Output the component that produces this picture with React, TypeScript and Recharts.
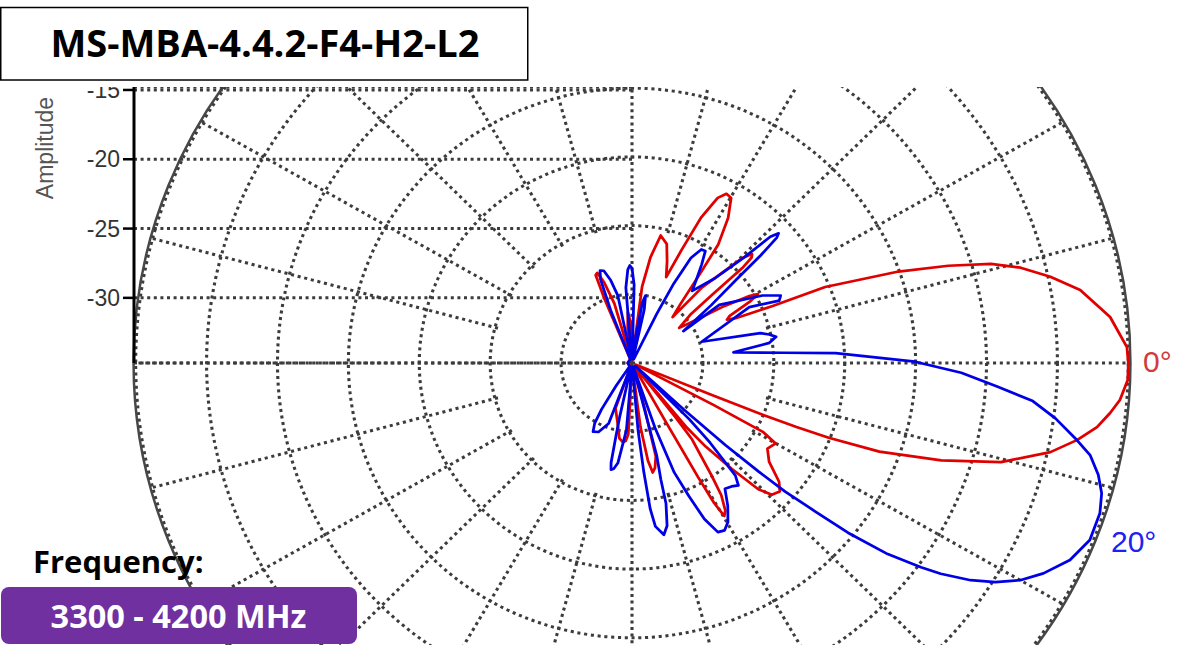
import React from 'react';
import {
  RadarChart,
  Radar,
  PolarGrid,
  PolarAngleAxis,
  PolarRadiusAxis,
  ComposedChart,
  XAxis,
  YAxis,
  CartesianGrid,
} from 'recharts';

// ---------------- data (angle in degrees, positive = below horizon; amplitude in dB) ----------------
const RED_PATH: Array<[number, number]> = [
  [-180, -34.7], [-114, -34.7], [-112.6, -30], [-111.8, -28.1], [-110.5, -28.0], [-108.5, -28.8], [-106, -30.5],
  [-104, -34.7], [-99, -34.7], [-97, -32.5], [-94.5, -31.3], [-92, -32], [-89.5, -34.7], [-84.5, -34.7],
  [-82.7, -29.4], [-80.4, -27.2], [-77.7, -25.5], [-74.2, -26.0], [-71.5, -27.2], [-68.9, -28.3], [-67, -26.1],
  [-65.3, -23.35], [-63.3, -21.55], [-61.6, -21.0], [-59.8, -21.1], [-57.3, -22.45], [-54.8, -24.45],
  [-53.7, -26.7], [-51.5, -29.5], [-49.4, -30.6], [-48.1, -27.6], [-44.5, -24.1], [-43.1, -23.4], [-42.3, -23.6],
  [-41.6, -24.6], [-41.3, -27.5], [-40.5, -29.6], [-37.5, -30.8], [-35.2, -29.75], [-32.5, -27.3], [-30.5, -25.4],
  [-29.5, -24.8], [-28.2, -25.6], [-26.5, -27.3], [-25.2, -27.6], [-24, -27.0], [-22.7, -24.25], [-22.1, -20.3],
  [-19.5, -15.06], [-17.6, -11.6], [-15.9, -8.68], [-14.2, -6.73], [-12, -4.84], [-9.55, -2.95], [-5.67, -1.12],
  [-1.9, -0.08], [0, 0], [2.03, -0.02], [4.47, -0.49], [6.16, -1.09], [8.1, -1.88], [10.1, -3.1], [12.4, -4.79],
  [15.5, -8.0], [18, -12.07], [20.3, -16.4], [21.4, -20.1], [21.9, -22.5], [22.2, -25], [22.5, -29],
  [23.2, -34.7], [26.8, -34.7], [28, -28.5], [28.5, -24.5], [30, -23.3], [33.1, -23.6], [36.6, -22.96],
  [39.8, -21.5], [41.9, -21.0], [44.2, -21.25], [45.9, -22.2], [47.6, -24.55], [49.5, -27], [50.6, -29],
  [51.5, -34.7], [52.2, -30], [52.7, -28.0], [55.6, -25.06], [56.8, -23.5], [58.5, -22.4], [59.7, -22.1],
  [60.4, -23.3], [60.7, -25.5], [60.9, -29.7], [61.6, -34.7], [73.5, -34.7], [74.8, -31.7], [76.1, -28.0],
  [78, -27.2], [79.6, -26.9], [81, -27.8], [82.7, -30.3], [84.5, -34.7], [91.5, -34.7], [92.9, -29.8],
  [94.5, -29.3], [96.4, -29.2], [99.2, -29.45], [104, -30.7], [109.4, -31.5], [111, -34.7], [180, -34.7],
];

const BLUE_PATH: Array<[number, number]> = [
  [-180, -34.7], [-113, -34.7], [-111.5, -31], [-110, -28.5], [-108.5, -27.9], [-106.5, -28.0], [-104, -28.8],
  [-101.5, -30], [-99.5, -34.7], [-96, -34.7], [-94.5, -29.5], [-92.5, -28.2], [-91.2, -27.9], [-90, -28.1],
  [-88.5, -29.3], [-87, -34.7], [-83, -34.7], [-82, -33], [-80.5, -30.5], [-79, -30], [-77.5, -31], [-76, -34.7],
  [-65.5, -34.7], [-64, -31], [-63, -28.5], [-61.5, -26.3], [-59.4, -25.4], [-57.6, -25.35], [-55.6, -26.3],
  [-53.5, -27.3], [-51, -28.25], [-46.5, -26.5], [-44.2, -24], [-43.3, -21.6], [-42.4, -21.0], [-41.8, -21.3],
  [-40.8, -23], [-39.5, -25.5], [-37, -28], [-32.6, -30.7], [-34.5, -27.53], [-28.1, -24.57], [-25.1, -23.42],
  [-23.6, -23.67], [-26.2, -25.78], [-17.5, -29.85], [-13.5, -25.7], [-12.1, -25.1], [-10.6, -24.66],
  [-8.6, -25.2], [-6.2, -27.8], [-4, -24.3], [-2.85, -20.62], [-0.27, -15.04], [1.75, -11.77], [3.84, -9.15],
  [5.6, -6.6], [7.68, -4.87], [10.13, -3.13], [11.71, -2.01], [13.92, -1.12], [15.98, -0.55], [18.34, -0.24],
  [21.75, -0.24], [24.9, -0.95], [27.82, -2.2], [30, -3.39], [31.9, -4.82], [33.5, -6.36], [35.17, -8.37],
  [36.1, -9.78], [37.64, -12.23], [39.04, -15.39], [39.9, -18.18], [40.9, -20.71], [41.5, -23.07],
  [42.2, -26.09], [42.8, -30], [43.5, -34.7], [44.5, -34.7], [45.4, -29.26], [46.5, -27], [48.3, -24.05],
  [49.9, -23.35], [52, -23.6], [54.4, -23.74], [57, -22.6], [59.7, -21.59], [61.8, -21.18], [63.8, -21.28],
  [65.8, -22.55], [67.5, -24.5], [69.5, -26.5], [71, -30], [72, -34.7], [73.5, -34.7], [75.5, -28],
  [76.5, -26.3], [76.8, -24.5], [78.2, -22.9], [79.8, -22.3], [82.1, -23.0], [83.1, -24.3], [84, -27],
  [85, -30], [86, -34.7], [92.5, -34.7], [94.6, -30.1], [97.8, -27.65], [99.5, -27.2], [100.8, -27.1],
  [101.5, -27.6], [102, -29.5], [102.5, -31], [104, -34.7], [108, -34.7], [110.5, -30.3], [115.2, -29.45],
  [118.8, -29.3], [121, -29.9], [122.5, -31], [124, -33], [125, -34.7], [180, -34.7],
];

const RADIAL_TICKS = [-30, -25, -20, -15, -10, -5, 0];
const AMPLITUDE_TICKS = [-30, -25, -20, -15];
const SPOKES_FULL = [0, 90, 180, 270];
const SPOKES_OUTER = [15, 30, 45, 60, 75, 105, 120, 135, 150, 165, 195, 210, 225, 240, 255, 285, 300, 315, 330, 345];

const TITLE = 'MS-MBA-4.4.2-F4-H2-L2';
const FREQ_LABEL = 'Frequency:';
const FREQ_RANGE = '3300 - 4200 MHz';
const AXIS_TITLE = 'Amplitude';
const RED_LABEL = '0°';
const BLUE_LABEL = '20°';

// ---------------- layout ----------------
const W = 1185;
const H = 645;
const CX = 632;
const CY = 363;
const OUTER = 483;
const STRETCH_X = 1.032;
const CLIP_TOP = 87;
const R_MIN = -34.7;
const R_MAX = 0.15;
const SPOKE_START_DB = -25;
const PX_PER_DB = OUTER / (R_MAX - R_MIN);
const AMP_TOP = R_MIN + (CY - CLIP_TOP) / PX_PER_DB;
const SPOKE_START_R = (SPOKE_START_DB - R_MIN) * PX_PER_DB;

const RED = '#e00000';
const BLUE = '#0000e6';
const GRID = '#3c3c3c';
const GRID_W = 3;
const GRID_DASH = '3 3.6';
const SANS = '"Liberation Sans", Arial, sans-serif';
const BOLD = '"Open Sans", "Noto Sans", sans-serif';

const toRows = (path: Array<[number, number]>) => path.map(([e, v]) => ({ e, v }));
const redRows = toRows(RED_PATH);
const blueRows = toRows(BLUE_PATH);

type FrameProps = {
  data: any[];
  innerRadius?: number;
  outline?: boolean;
  children?: React.ReactNode;
};

function PolarFrame({ data, innerRadius = 0, outline = false, children }: FrameProps) {
  return (
    <div style={{ position: 'absolute', left: 0, top: 0 }}>
      <RadarChart
        width={W}
        height={H}
        cx={CX}
        cy={CY}
        innerRadius={innerRadius}
        outerRadius={OUTER}
        startAngle={180}
        endAngle={-180}
        data={data}
        margin={{ top: 0, right: 0, bottom: 0, left: 0 }}
      >
        <PolarAngleAxis
          dataKey="e"
          type="number"
          domain={[-180, 180]}
          tick={false}
          tickLine={false}
          axisLine={outline ? { stroke: '#474747', strokeWidth: 2.4 } : false}
          axisLineType="circle"
        />
        <PolarRadiusAxis
          type="number"
          domain={[R_MIN, R_MAX]}
          ticks={RADIAL_TICKS}
          allowDataOverflow
          tick={false}
          axisLine={false}
        />
        {children}
      </RadarChart>
    </div>
  );
}

const stretched: React.CSSProperties = {
  position: 'absolute',
  left: 0,
  top: 0,
  width: W,
  height: H,
  transform: `scaleX(${STRETCH_X})`,
  transformOrigin: `${CX}px ${CY}px`,
};

export default function App() {
  return (
    <div style={{ position: 'absolute', left: 0, top: 0, width: W, height: H, background: '#fff', overflow: 'hidden' }}>
      <div style={{ position: 'absolute', left: 0, top: CLIP_TOP, width: W, height: H - CLIP_TOP, overflow: 'hidden' }}>
        <div style={{ position: 'absolute', left: 0, top: -CLIP_TOP, width: W, height: H }}>
          <div style={stretched}>
            <PolarFrame data={redRows} outline>
              <PolarGrid
                gridType="circle"
                polarAngles={SPOKES_FULL}
                stroke={GRID}
                strokeWidth={GRID_W}
                strokeDasharray={GRID_DASH}
              />
            </PolarFrame>
            <PolarFrame data={redRows} innerRadius={SPOKE_START_R}>
              <PolarGrid
                gridType="circle"
                polarAngles={SPOKES_OUTER}
                polarRadius={[]}
                stroke={GRID}
                strokeWidth={GRID_W}
                strokeDasharray={GRID_DASH}
              />
            </PolarFrame>
          </div>
          <div style={{ position: 'absolute', left: 0, top: 0 }}>
            <ComposedChart
              width={CX + 8}
              height={CY + 20}
              data={AMPLITUDE_TICKS.map((a) => ({ a }))}
              margin={{ top: CLIP_TOP, right: 8, bottom: 20, left: 0 }}
            >
              <CartesianGrid horizontal vertical={false} stroke={GRID} strokeWidth={GRID_W} strokeDasharray={GRID_DASH} />
              <XAxis type="number" dataKey="a" hide domain={[0, 1]} allowDataOverflow />
              <YAxis
                type="number"
                domain={[R_MIN, AMP_TOP]}
                allowDataOverflow
                ticks={AMPLITUDE_TICKS}
                interval={0}
                width={134}
                tickSize={11}
                tickMargin={3}
                axisLine={{ stroke: '#000', strokeWidth: 3 }}
                tickLine={{ stroke: '#000', strokeWidth: 2.5 }}
                tick={{ fill: '#333', fontSize: 23, fontFamily: SANS }}
              />
            </ComposedChart>
          </div>
          <div style={stretched}>
            <PolarFrame data={redRows}>
              <Radar
                dataKey="v"
                stroke={RED}
                strokeWidth={2.7}
                fill="none"
                fillOpacity={0}
                dot={false}
                strokeLinejoin="round"
                isAnimationActive={false}
              />
            </PolarFrame>
            <PolarFrame data={blueRows}>
              <Radar
                dataKey="v"
                stroke={BLUE}
                strokeWidth={2.7}
                fill="none"
                fillOpacity={0}
                dot={false}
                strokeLinejoin="round"
                isAnimationActive={false}
              />
            </PolarFrame>
          </div>
        </div>
      </div>
      <svg width={W} height={H} style={{ position: 'absolute', left: 0, top: 0 }}>
        <rect x={0.75} y={7.5} width={527} height={72.5} fill="#fff" stroke="#000" strokeWidth={1.5} />
        <text x={265} y={56.5} textAnchor="middle" fontFamily={BOLD} fontWeight={700} fontSize={38} fill="#000">
          {TITLE}
        </text>
        <text transform="translate(53,148) rotate(-90)" textAnchor="middle" fontFamily={SANS} fontSize={23} fill="#555">
          {AXIS_TITLE}
        </text>
        <text x={33} y={573} fontFamily={BOLD} fontWeight={700} fontSize={31} fill="#000">
          {FREQ_LABEL}
        </text>
        <rect x={1} y={587} width={356} height={57} rx={8} fill="#7030a0" />
        <text x={178.5} y={628} textAnchor="middle" fontFamily={BOLD} fontWeight={700} fontSize={32.5} fill="#fff">
          {FREQ_RANGE}
        </text>
        <text x={1143} y={371.5} fontFamily={SANS} fontSize={30} fill="#d23a3a">
          {RED_LABEL}
        </text>
        <text x={1111} y={551.5} fontFamily={SANS} fontSize={30} fill="#2020f0">
          {BLUE_LABEL}
        </text>
      </svg>
    </div>
  );
}
